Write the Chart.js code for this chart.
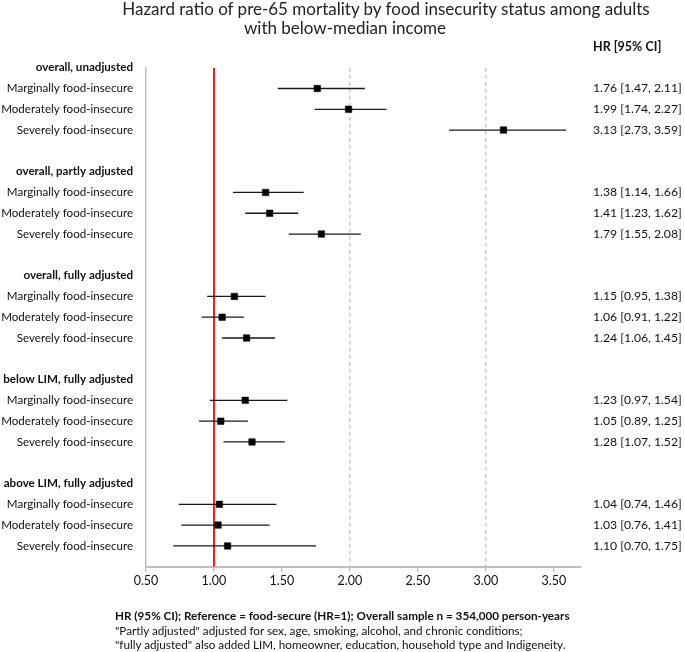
<!DOCTYPE html>
<html>
<head>
<meta charset="utf-8">
<script src="https://cdn.jsdelivr.net/npm/chart.js@4.4.1/dist/chart.umd.min.js"></script>
<style>
  body { margin: 0; background: #fff; }
  #wrap { position: relative; width: 685px; height: 652px; }
  .ttl {
    position: absolute; width: 600px; text-align: center;
    font-family: Lato, sans-serif; font-size: 17px; line-height: 18.5px; color: #222;
    white-space: nowrap;
  }
  #t1 { left: 86px; top: 0px; }
  #t2 { left: 45px; top: 18.5px; }
  #note {
    position: absolute; left: 115px; top: 608px;
    font-family: Lato, sans-serif; font-size: 11.7px; line-height: 14.6px; color: #111;
    white-space: nowrap;
  }
</style>
</head>
<body>
<div id="wrap">
  <canvas id="chart" width="685" height="652"></canvas>
  <div class="ttl" id="t1">Hazard ratio of pre-65 mortality by food insecurity status among adults</div>
  <div class="ttl" id="t2">with below-median income</div>
  <div id="note">
    <b>HR (95% CI); Reference = food-secure (HR=1); Overall sample n = 354,000 person-years</b><br>
    "Partly adjusted" adjusted for sex, age, smoking, alcohol, and chronic conditions;<br>
    "fully adjusted" also added LIM, homeowner, education, household type and Indigeneity.
  </div>
</div>
<script>
// data
var groups = ["overall, unadjusted", "overall, partly adjusted", "overall, fully adjusted",
  "below LIM, fully adjusted", "above LIM, fully adjusted"];
var statuses = ["Marginally food-insecure", "Moderately food-insecure", "Severely food-insecure"];
var hr    = [1.76, 1.99, 3.13,  1.38, 1.41, 1.79,  1.15, 1.06, 1.24,  1.23, 1.05, 1.28,  1.04, 1.03, 1.10];
var lower = [1.47, 1.74, 2.73,  1.14, 1.23, 1.55,  0.95, 0.91, 1.06,  0.97, 0.89, 1.07,  0.74, 0.76, 0.70];
var upper = [2.11, 2.27, 3.59,  1.66, 1.62, 2.08,  1.38, 1.22, 1.45,  1.54, 1.25, 1.52,  1.46, 1.41, 1.75];
var xTickValues = [0.5, 1.0, 1.5, 2.0, 2.5, 3.0, 3.5];
var refLine = 1;
var dashLines = [2, 3];

var FONT = "Lato, 'Open Sans', sans-serif";

// rows: header, 3 statuses, blank
var leftLabels = [];
var rightLabels = [];
var points = [];
var ciLines = [];
groups.forEach(function (g, gi) {
  leftLabels.push(g);
  rightLabels.push("");
  statuses.forEach(function (s, si) {
    var k = gi * 3 + si;
    var row = leftLabels.length;
    leftLabels.push(s);
    rightLabels.push(hr[k].toFixed(2) + " [" + lower[k].toFixed(2) + ", " + upper[k].toFixed(2) + "]");
    points.push({ x: hr[k], y: row });
    ciLines.push({ x: lower[k], y: row }, { x: upper[k], y: row }, { x: null, y: null });
  });
  leftLabels.push("");
  rightLabels.push("");
});
var nRows = leftLabels.length;

function vline(x) {
  return [{ x: x, y: 0 }, { x: x, y: nRows - 1 }];
}

var rowTicks = function (scale) {
  scale.ticks = leftLabels.slice(0, nRows - 1).map(function (l, i) { return { value: i }; });
};

// column header above the HR values
var headerPlugin = {
  id: "hrHeader",
  afterDraw: function (chart) {
    var c = chart.ctx;
    var yr = chart.scales.y2;
    c.save();
    c.font = "bold 12.5px " + FONT;
    c.fillStyle = "#111";
    c.textBaseline = "middle";
    c.textAlign = "left";
    c.fillText("HR [95% CI]", yr.left + 12, chart.scales.y.getPixelForValue(-1));
    c.restore();
  }
};

new Chart(document.getElementById("chart").getContext("2d"), {
  type: "scatter",
  data: {
    datasets: [
      { data: points, pointStyle: "rect", pointRadius: 4.6, pointBorderWidth: 0.5,
        backgroundColor: "#000", borderColor: "#000", order: 0 },
      { data: ciLines, showLine: true, spanGaps: false, pointRadius: 0,
        borderColor: "#1a1a1a", borderWidth: 1.3, order: 1 },
      { data: vline(refLine), showLine: true, pointRadius: 0,
        borderColor: "#ff0000", borderWidth: 1.8, order: 2 },
      { data: vline(dashLines[0]), showLine: true, pointRadius: 0,
        borderColor: "#c4c4c4", borderWidth: 1.3, borderDash: [4, 3], order: 3 },
      { data: vline(dashLines[1]), showLine: true, pointRadius: 0,
        borderColor: "#c4c4c4", borderWidth: 1.3, borderDash: [4, 3], order: 3 }
    ]
  },
  options: {
    responsive: false,
    animation: false,
    devicePixelRatio: 1,
    layout: { padding: { top: 67.7, left: 0, right: 0, bottom: 65.3 } },
    plugins: {
      legend: { display: false },
      tooltip: { enabled: false }
    },
    scales: {
      x: {
        type: "linear",
        min: 0.5,
        max: 3.7,
        afterBuildTicks: function (scale) {
          scale.ticks = xTickValues.map(function (v) { return { value: v }; });
        },
        afterFit: function (scale) { scale.height = 20; },
        ticks: {
          callback: function (v) { return Number(v).toFixed(2); },
          color: "#111",
          padding: 2,
          maxRotation: 0,
          font: { family: FONT, size: 12.5 }
        },
        grid: { drawOnChartArea: false, drawTicks: true, tickLength: 5, color: "#bfbfbf", lineWidth: 1.3 },
        border: { color: "#bfbfbf", width: 2 }
      },
      y: {
        type: "linear",
        position: "left",
        reverse: true,
        min: 0,
        max: nRows - 1,
        afterBuildTicks: rowTicks,
        afterFit: function (scale) { scale.width = 146; },
        ticks: {
          callback: function (v) { return leftLabels[v]; },
          color: "#111",
          padding: 13,
          autoSkip: false,
          font: function (ctx) {
            var bold = ctx.tick && ctx.tick.value % 5 === 0;
            return { family: FONT, size: 11.6, weight: bold ? "bold" : "normal" };
          }
        },
        grid: { display: false, drawTicks: false },
        border: { color: "#bfbfbf", width: 1.5 }
      },
      y2: {
        type: "linear",
        position: "right",
        reverse: true,
        min: 0,
        max: nRows - 1,
        afterBuildTicks: rowTicks,
        afterFit: function (scale) { scale.width = 104; },
        ticks: {
          callback: function (v) { return rightLabels[v]; },
          color: "#111",
          padding: 12,
          autoSkip: false,
          font: { family: FONT, size: 12.2 }
        },
        grid: { display: false, drawTicks: false },
        border: { display: false }
      }
    }
  },
  plugins: [headerPlugin]
});
</script>
</body>
</html>
